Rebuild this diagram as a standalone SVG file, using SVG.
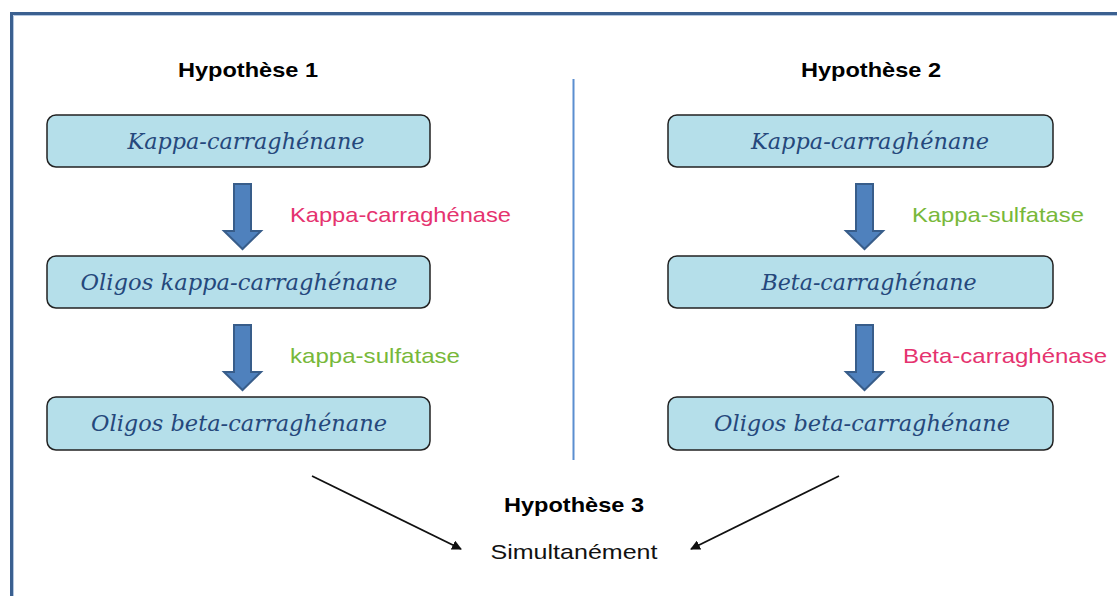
<svg xmlns="http://www.w3.org/2000/svg" width="1117" height="596" viewBox="0 0 1117 596">
<defs>
<style>
.box{fill:#b5dfea;stroke:#222;stroke-width:1.5}
.bt{font-family:"DejaVu Serif","Liberation Serif",serif;font-style:italic;font-size:22px;fill:#25487c;text-anchor:middle}
.hyp{font-family:"Liberation Sans",sans-serif;font-weight:bold;font-size:21px;fill:#000;text-anchor:middle}
.lbl{font-family:"Liberation Sans",sans-serif;font-size:21px}
.pink{fill:#e5336f}
.green{fill:#78b83a}
.barrow{fill:#4f81bd;stroke:#385d8a;stroke-width:2}
</style>
<marker id="ah" markerWidth="10" markerHeight="10" refX="9" refY="5" orient="auto" markerUnits="userSpaceOnUse" viewBox="0 0 10 10">
<path d="M0,0 L10,5 L0,10 z" fill="#111"/>
</marker>
</defs>
<rect x="0" y="0" width="1117" height="596" fill="#fff"/>
<g id="frame">
<path d="M11.5,596 L11.5,13.5 L1117,13.5" fill="none" stroke="#3b6090" stroke-width="3"/>
<path d="M13.5,596 L13.5,15.5 L1117,15.5" fill="none" stroke="#b4c7e0" stroke-width="1"/>
</g>
<g id="divider"><line x1="573.5" y1="79" x2="573.5" y2="460" stroke="#5b8ed0" stroke-width="2"/></g>

<g id="h1"><text class="hyp" x="248" y="77" textLength="140" lengthAdjust="spacingAndGlyphs">Hypothèse 1</text></g>
<g id="h2"><text class="hyp" x="871" y="77" textLength="140" lengthAdjust="spacingAndGlyphs">Hypothèse 2</text></g>
<g id="h3"><text class="hyp" x="574" y="512" textLength="140" lengthAdjust="spacingAndGlyphs">Hypothèse 3</text></g>

<g id="l1"><rect class="box" x="47" y="115" width="383" height="52" rx="9"/><text class="bt" x="246" y="149" textLength="237" lengthAdjust="spacingAndGlyphs">Kappa-carraghénane</text></g>
<g id="l2"><rect class="box" x="47" y="256" width="383" height="52" rx="9"/><text class="bt" x="239" y="290" textLength="317" lengthAdjust="spacingAndGlyphs">Oligos kappa-carraghénane</text></g>
<g id="l3"><rect class="box" x="47" y="397" width="383" height="53" rx="9"/><text class="bt" x="239" y="431" textLength="296" lengthAdjust="spacingAndGlyphs">Oligos beta-carraghénane</text></g>

<g id="r1"><rect class="box" x="668" y="115" width="385" height="52" rx="9"/><text class="bt" x="870" y="149" textLength="238" lengthAdjust="spacingAndGlyphs">Kappa-carraghénane</text></g>
<g id="r2"><rect class="box" x="668" y="256" width="385" height="52" rx="9"/><text class="bt" x="869" y="290" textLength="215" lengthAdjust="spacingAndGlyphs">Beta-carraghénane</text></g>
<g id="r3"><rect class="box" x="668" y="397" width="385" height="53" rx="9"/><text class="bt" x="862" y="431" textLength="296" lengthAdjust="spacingAndGlyphs">Oligos beta-carraghénane</text></g>

<g id="arrows">
<path class="barrow" d="M234,184 L251,184 L251,231 L261,231 L242.5,249 L224,231 L234,231 z"/>
<path class="barrow" d="M234,325 L251,325 L251,372 L261,372 L242.5,390 L224,372 L234,372 z"/>
<path class="barrow" d="M856,184 L873,184 L873,231 L883,231 L864.5,249 L846,231 L856,231 z"/>
<path class="barrow" d="M856,325 L873,325 L873,372 L883,372 L864.5,390 L846,372 L856,372 z"/>
</g>

<g id="labels">
<text class="lbl pink" x="290" y="222" textLength="221" lengthAdjust="spacingAndGlyphs">Kappa-carraghénase</text>
<text class="lbl green" x="290" y="363" textLength="170" lengthAdjust="spacingAndGlyphs">kappa-sulfatase</text>
<text class="lbl green" x="912" y="222" textLength="172" lengthAdjust="spacingAndGlyphs">Kappa-sulfatase</text>
<text class="lbl pink" x="903" y="363" textLength="204" lengthAdjust="spacingAndGlyphs">Beta-carraghénase</text>
</g>

<g id="connectors" stroke="#111" stroke-width="1.8" fill="none">
<line x1="312" y1="476" x2="461" y2="549" marker-end="url(#ah)"/>
<line x1="839" y1="476" x2="691" y2="549" marker-end="url(#ah)"/>
</g>

<g id="sim"><text x="574" y="559" font-family="Liberation Sans, sans-serif" font-size="21" fill="#111" text-anchor="middle" textLength="167" lengthAdjust="spacingAndGlyphs">Simultanément</text></g>
</svg>
